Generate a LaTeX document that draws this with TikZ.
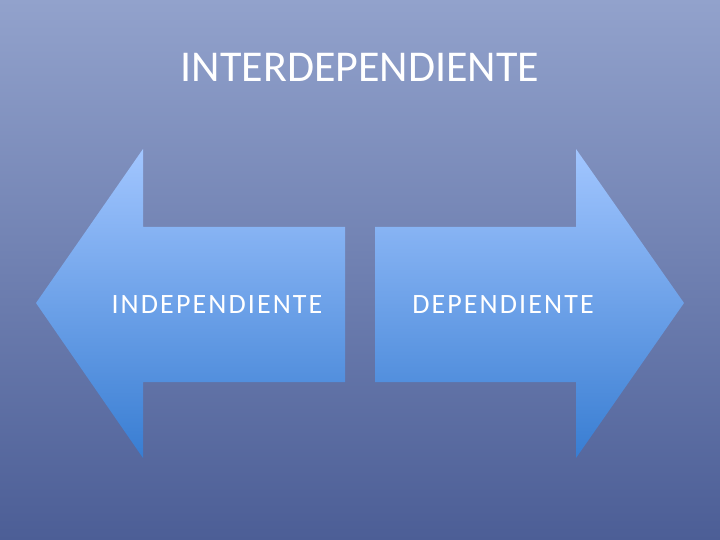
\documentclass[tikz,border=0pt]{standalone}
\usepackage{fontspec}
\setmainfont{Carlito}
\newfontfamily\spacedfont[LetterSpace=7.5]{Carlito}
\definecolor{bgtop}{RGB}{146,162,204}
\definecolor{bgbot}{RGB}{76,94,150}
\definecolor{artop}{RGB}{162,198,255}
\definecolor{arbot}{RGB}{56,125,210}
\begin{document}
\begin{tikzpicture}[x=1pt,y=-1pt,
  arrowshape/.style={top color=artop,bottom color=arbot,draw=none},
  lbl/.style={text=white,font=\spacedfont\fontsize{28}{32}\selectfont,inner sep=0pt,anchor=base}]
\shade[top color=bgtop,bottom color=bgbot] (0,0) rectangle (720,540);
\useasboundingbox (0,0) rectangle (720,540);
\shade[arrowshape] (36,303) -- (143,149) -- (143,227) -- (345,227) -- (345,382) -- (143,382) -- (143,458) -- cycle;
\shade[arrowshape] (684,303) -- (576,149) -- (576,227) -- (375,227) -- (375,382) -- (576,382) -- (576,458) -- cycle;
\node[text=white,font=\fontsize{44}{50}\selectfont,inner sep=0pt,anchor=base] (title) at (360,82) {INTERDEPENDIENTE};
\node[lbl] (indep) at (217,313) {INDEPENDIENTE};
\node[lbl] (dep) at (503,313) {DEPENDIENTE};
\end{tikzpicture}
\end{document}
